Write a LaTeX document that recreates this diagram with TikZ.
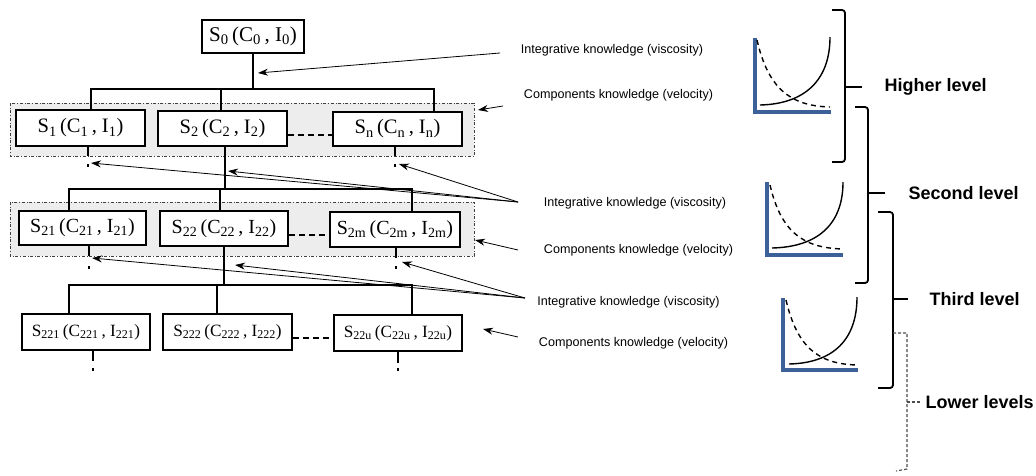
\documentclass[tikz,border=0pt]{standalone}
\usepackage{fontspec}
\setmainfont{Liberation Serif}
\setsansfont{Liberation Sans}
\usetikzlibrary{arrows.meta}
\definecolor{axisblue}{HTML}{3B6198}
\tikzset{
  sbox/.style={draw, line width=1.6pt, fill=white, inner sep=0pt, font=\fontsize{21}{22}\selectfont},
  tree/.style={line width=1.5pt},
  band/.style={draw=black!75, dash dot, line width=0.7pt, fill=black!7},
  dashlink/.style={line width=1.4pt, dash pattern=on 6pt off 4pt},
  pointer/.style={line width=0.8pt, -{Stealth[length=10pt,width=7pt]}},
  dotmark/.style={fill=black, minimum width=2.2pt, minimum height=3pt, inner sep=0pt},
  note/.style={font=\sffamily\fontsize{12.6}{13}\selectfont},
  lvl/.style={font=\sffamily\bfseries\fontsize{18}{19}\selectfont, anchor=west},
  axis/.style={draw=axisblue, line width=3.6pt},
  curve/.style={line width=1.4pt},
  dcurve/.style={line width=1.4pt, dash pattern=on 5pt off 4pt},
  bracket/.style={line width=1.8pt, rounded corners=3pt},
}
\newcommand{\sub}[1]{\textsubscript{#1}}
\begin{document}
\begin{tikzpicture}[x=1pt, y=-1pt]
\path[use as bounding box] (0,0) rectangle (1036,475);

% shaded groups of sibling systems
\path[band] (10,103) rectangle (474,156);
\path[band] (10,202) rectangle (474,256);

% top system
\node[sbox, minimum width=102pt, minimum height=33pt] (s0) at (253,36.5) {S\sub{0}\,(C\sub{0}\,, I\sub{0})};

% first level
\node[sbox, minimum width=129pt, minimum height=36pt, font=\fontsize{20.5}{21}\selectfont] (s1) at (80.5,128) {S\sub{1}\,(C\sub{1}\,, I\sub{1})};
\node[sbox, minimum width=129pt, minimum height=35pt, font=\fontsize{20.5}{21}\selectfont] (s2) at (222.5,128.5) {S\sub{2}\,(C\sub{2}\,, I\sub{2})};
\node[sbox, minimum width=129pt, minimum height=34pt, font=\fontsize{20.5}{21}\selectfont] (sn) at (397.5,129) {S\sub{n}\,(C\sub{n}\,, I\sub{n})};

% second level
\node[sbox, minimum width=127pt, minimum height=34pt, font=\fontsize{20}{21}\selectfont] (s21) at (82.5,228) {S\sub{21}\,(C\sub{21}\,, I\sub{21})};
\node[sbox, minimum width=128pt, minimum height=35pt, font=\fontsize{20}{21}\selectfont] (s22) at (224,228.5) {S\sub{22}\,(C\sub{22}\,, I\sub{22})};
\node[sbox, minimum width=130pt, minimum height=35pt, font=\fontsize{20}{21}\selectfont] (s2m) at (395,229.5) {S\sub{2m}\,(C\sub{2m}\,, I\sub{2m})};

% third level
\node[sbox, minimum width=128pt, minimum height=36pt, font=\fontsize{17.2}{18}\selectfont] (s221) at (86,332) {S\sub{221}\,(C\sub{221}\,, I\sub{221})};
\node[sbox, minimum width=129pt, minimum height=36pt, font=\fontsize{17.2}{18}\selectfont] (s222) at (227.5,332) {S\sub{222}\,(C\sub{222}\,, I\sub{222})};
\node[sbox, minimum width=128pt, minimum height=36pt, font=\fontsize{17.2}{18}\selectfont] (s22u) at (398,333) {S\sub{22u}\,(C\sub{22u}\,, I\sub{22u})};

% branching bars
\coordinate (a1) at (91,89);  \coordinate (a2) at (221,89);  \coordinate (a3) at (434,89);
\coordinate (b1) at (69,189); \coordinate (b2) at (220,189); \coordinate (b3) at (412,189);
\coordinate (c1) at (69,285); \coordinate (c2) at (217,285); \coordinate (c3) at (412,285);

\draw[tree] (s0.south) -- (s0.south |- a1);
\draw[tree] (a1 |- s1.north) -- (a1) -- (a3) -- (a3 |- sn.north);
\draw[tree] (a2) -- (a2 |- s2.north);

\draw[tree] (s2.south -| 225,0) -- (225,189);
\draw[tree] (b1 |- s21.north) -- (b1) -- (b3) -- (b3 |- s2m.north);
\draw[tree] (b2) -- (b2 |- s22.north);

\draw[tree] (s22.south -| 224,0) -- (224,285);
\draw[tree] (c1 |- s221.north) -- (c1) -- (c3) -- (c3 |- s22u.north);
\draw[tree] (c2) -- (c2 |- s222.north);

% open continuations
\node[dotmark] (o1) at (88,165) {};
\node[dotmark] (o2) at (395,165) {};
\node[dotmark] (o3) at (89,267) {};
\node[dotmark] (o4) at (396,267) {};
\node[dotmark] (o5) at (93,369) {};
\node[dotmark] (o6) at (398,369) {};
\draw[tree] (s1.south -| o1) -- ++(0,9);
\draw[tree] (sn.south -| o2) -- ++(0,9);
\draw[tree] (s21.south -| o3) -- ++(0,10);
\draw[tree] (s2m.south -| o4) -- ++(0,10);
\draw[tree] (s221.south -| o5) -- ++(0,10);
\draw[tree] (s22u.south -| o6) -- ++(0,11);

% siblings left out
\draw[dashlink] (s2.east |- 0,135) -- (sn.west |- 0,135);
\draw[dashlink] (s22.east |- 0,235) -- (s2m.west |- 0,235);
\draw[dashlink] (s222.east |- 0,338) -- (s22u.west |- 0,338);

% knowledge labels
\node[note] (i1) at (612,50) {Integrative knowledge (viscosity)};
\node[note] (k1) at (618.5,95) {Components knowledge (velocity)};
\node[note] (i2) at (635,203) {Integrative knowledge (viscosity)};
\node[note] (k2) at (638.5,250) {Components knowledge (velocity)};
\node[note] (i3) at (628.5,302) {Integrative knowledge (viscosity)};
\node[note] (k3) at (633.5,343) {Components knowledge (velocity)};

% pointers
\coordinate (pi1) at (500,53);
\coordinate (pk1) at (503,106);
\coordinate (pi2) at (518,202);
\coordinate (pk2) at (518,250);
\coordinate (pi3) at (525,298);
\coordinate (pk3) at (518,337);

\draw[pointer] (pi1) -- (258,73);
\draw[pointer] (pk1) -- (478,110);
\draw[pointer] (pi2) -- (91,163);
\draw[pointer] (pi2) -- (228,171);
\draw[pointer] (pi2) -- (399,164);
\draw[pointer] (pk2) -- (475,240);
\draw[pointer] (pi3) -- (92,258);
\draw[pointer] (pi3) -- (235,265);
\draw[pointer] (pi3) -- (402,262);
\draw[pointer] (pk3) -- (483,329);

% viscosity / velocity sketches
\draw[axis] (755,38) -- (755,112) -- (831,112);
\draw[curve] (760,105) .. controls (805,104) and (830,80) .. (830,37);
\draw[dcurve] (757,40) .. controls (768,88) and (790,106) .. (830,107);

\draw[axis] (767,182) -- (767,255) -- (843,255);
\draw[curve] (772,248) .. controls (817,247) and (843,225) .. (843,182);
\draw[dcurve] (770,185) .. controls (781,232) and (803,248) .. (843,249);

\draw[axis] (783,298) -- (783,370) -- (858,370);
\draw[curve] (789,364) .. controls (833,363) and (857,340) .. (857,297);
\draw[dcurve] (786,300) .. controls (797,347) and (818,364) .. (857,365);

% level brackets
\draw[bracket] (832,10) -- (845,10) -- (845,162) -- (832,162);
\draw[bracket] (845,87) -- (862,87);
\draw[bracket] (855,107) -- (868,107) -- (868,283) -- (855,283);
\draw[bracket] (868,193) -- (885,193);
\draw[bracket] (878,212) -- (893,212) -- (893,388) -- (878,388);
\draw[bracket] (893,299) -- (908,299);
\draw[black!70, line width=1.1pt, dash pattern=on 3pt off 2pt] (893,333) -- (907,333) -- (907,469) -- (896,471);
\draw[black!70, line width=1.1pt, dash pattern=on 3pt off 2pt] (907,402) -- (921,402);

\node[lvl] (l1) at (881,87) {Higher level};
\node[lvl] (l2) at (905,193) {Second level};
\node[lvl] (l3) at (926,299) {Third level};
\node[lvl] (l4) at (922,402) {Lower levels};
\end{tikzpicture}
\end{document}
